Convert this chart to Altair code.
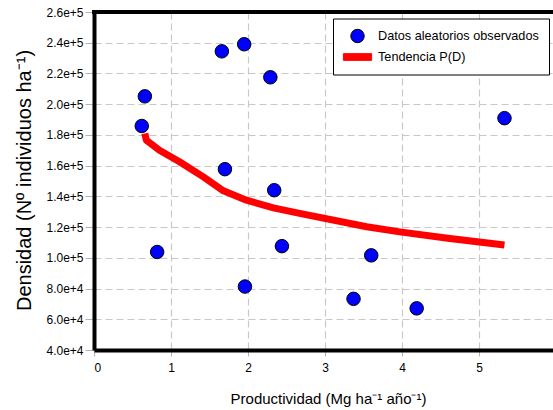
import altair as alt
import pandas as pd

# Observed random data (Productividad, Densidad)
obs_x = [0.62, 0.66, 0.82, 1.66, 1.95, 1.70, 2.29, 2.34, 1.96, 2.44, 3.37, 3.60, 4.19, 5.33]
obs_y = [185800, 205100, 103800, 234400, 239000, 157700, 217500, 144000, 81300, 107600, 73300, 101600, 67100, 190900]

# Trend P(D)
trend_x = [0.66, 0.68, 0.85, 1.11, 1.42, 1.68, 1.98, 2.33, 2.67, 3.54, 3.97, 4.62, 5.33]
trend_y = [180900, 176500, 170000, 162500, 152700, 143600, 137500, 132500, 128900, 120200, 116900, 112600, 108300]

y_ticks = [40000, 60000, 80000, 100000, 120000, 140000, 160000, 180000,
           200000, 220000, 240000, 260000]
x_ticks = [0, 1, 2, 3, 4, 5]

S_OBS = "Datos aleatorios observados"
S_TREND = "Tendencia P(D)"
SERIES = [S_OBS, S_TREND]

obs = pd.DataFrame({"x": obs_x, "y": obs_y, "serie": S_OBS})
trend = pd.DataFrame({"x": trend_x, "y": trend_y, "serie": S_TREND})

W, H = 459, 338
FONT = "Liberation Sans"

xscale = alt.Scale(domain=[0, 5.96], nice=False, zero=False)
yscale = alt.Scale(domain=[40000, 260000], nice=False, zero=False)

xaxis = alt.Axis(
    values=x_ticks, format="d", title="Productividad (Mg ha⁻¹ año⁻¹)",
    titleFontSize=15, titleFontWeight="normal", titleFont=FONT, titleColor="black",
    titleX=234, titleY=53, titleAlign="center", titleBaseline="alphabetic",
    labelFont=FONT, labelFontSize=12, labelColor="black", labelPadding=6,
    labelOverlap=False,
    tickSize=6, tickColor="#b4b4b4", tickWidth=1,
    domainColor="black", domainWidth=4,
    grid=True, gridColor="#c8c8c8", gridDash=[7, 4], gridWidth=1.2,
)
yaxis = alt.Axis(
    values=y_ticks, format=".1e", title="Densidad (Nº individuos ha⁻¹)",
    titleFontSize=20, titleFontWeight="normal", titleFont=FONT, titleColor="black",
    titleX=-63.5, titleY=168, titleAlign="center", titleBaseline="alphabetic", titleAngle=270,
    labelFont=FONT, labelFontSize=12, labelColor="black", labelPadding=2,
    labelOverlap=False, labelBound=False, labelFlush=False,
    tickSize=9, tickColor="#b4b4b4", tickWidth=1,
    domainColor="black", domainWidth=4,
    grid=True, gridColor="#c8c8c8", gridDash=[7, 4], gridWidth=1.2,
)

legend = alt.Legend(
    title=None, orient="none", legendX=239, legendY=6.5,
    strokeColor="black", fillColor="white",
    padding=10, labelFont=FONT, labelFontSize=12.7, labelColor="black",
    labelOffset=13, labelLimit=400, symbolSize=180, symbolOffset=7,
    symbolStrokeWidth=1, rowPadding=4, symbolOpacity=1,
)

fill = alt.Fill("serie:N", scale=alt.Scale(domain=SERIES, range=["#0000ff", "#ff0000"]), legend=legend)
stroke = alt.Stroke("serie:N", scale=alt.Scale(domain=SERIES, range=["#000000", "#ff0000"]), legend=legend)
shape = alt.Shape(
    "serie:N",
    scale=alt.Scale(domain=SERIES, range=["circle", "M-2.1,-0.5L2.1,-0.5L2.1,0.5L-2.1,0.5Z"]),
    legend=legend,
)

points = alt.Chart(obs).mark_point(filled=True, size=182, opacity=1, strokeWidth=1).encode(
    x=alt.X("x:Q", scale=xscale, axis=xaxis),
    y=alt.Y("y:Q", scale=yscale, axis=yaxis),
    fill=fill, stroke=stroke, shape=shape,
)

line = alt.Chart(trend).mark_line(strokeJoin="round", strokeWidth=7).encode(
    x=alt.X("x:Q", scale=xscale, axis=xaxis),
    y=alt.Y("y:Q", scale=yscale, axis=yaxis),
    stroke=stroke,
    order="x:Q",
)

top_rule = alt.Chart(trend).mark_rule(color="black", strokeWidth=4).encode(
    y=alt.value(0), x=alt.value(-2), x2=alt.value(W)
)

chart = alt.layer(points, line, top_rule).properties(
    width=W, height=H,
    padding={"left": 94, "top": 12, "right": 0, "bottom": 60},
    autosize=alt.AutoSizeParams(type="none"),
    background="white",
).configure_view(stroke=None)

chart.save("out.html", embed_options={"renderer": "svg", "actions": False})
